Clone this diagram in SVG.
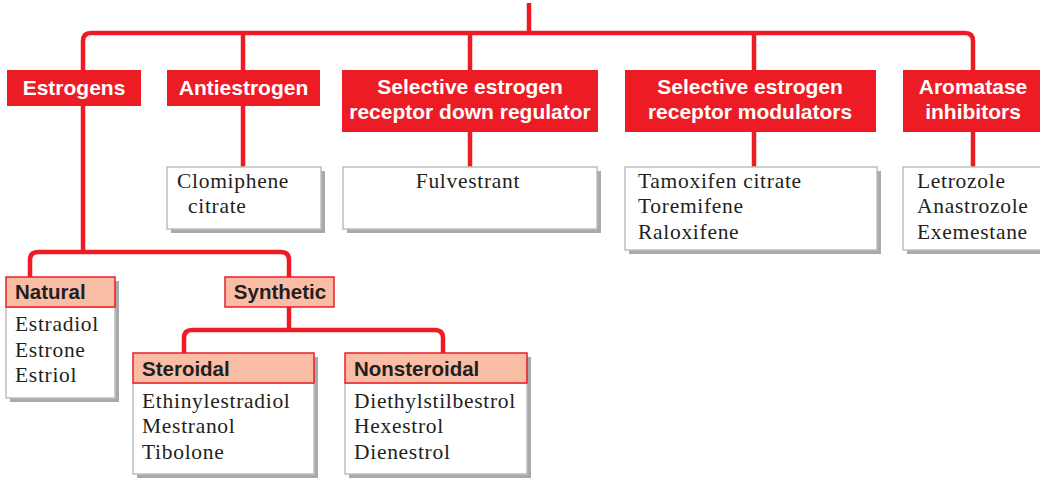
<svg xmlns="http://www.w3.org/2000/svg" width="1040" height="478" viewBox="0 0 1040 478">
<style>
.hdr{fill:#ed1c24}
.ht{font-family:"Liberation Sans",Arial,sans-serif;font-weight:bold;font-size:21px;fill:#ffffff;text-anchor:middle}
.sub{fill:#f9bda5;stroke:#ed1c24;stroke-width:1.5}
.st{font-family:"Liberation Sans",Arial,sans-serif;font-weight:bold;font-size:20.5px;fill:#231f20}
.box{fill:#ffffff;stroke:#bcbec0;stroke-width:1.5}
.sh{fill:#a7a9ac}
.bt{font-family:"Liberation Serif","Times New Roman",serif;font-size:21.5px;fill:#231f20;letter-spacing:0.7px}
.ln{fill:none;stroke:#ed1c24;stroke-width:4.5;stroke-linejoin:round}
</style>
<g id="connectors">
<path class="ln" d="M529,3 V33"/>
<path class="ln" d="M83,70 V41 Q83,33 91,33 H965 Q973,33 973,41 V70"/>
<path class="ln" d="M243,33 V70 M470,33 V70 M754,33 V70"/>
<path class="ln" d="M243,106 V167 M470,132 V167 M754,132 V167 M973,132 V167"/>
<path class="ln" d="M83,106 V252"/>
<path class="ln" d="M30,277 V260 Q30,252 38,252 H281 Q289,252 289,260 V277"/>
<path class="ln" d="M289,307 V330"/>
<path class="ln" d="M184,353 V338 Q184,330 192,330 H435 Q443,330 443,338 V353"/>
</g>
<g id="estrogens">
<rect class="hdr" x="7" y="70" width="134" height="36"/>
<text class="ht" x="74" y="95">Estrogens</text>
</g>
<g id="antiestrogen">
<rect class="hdr" x="167" y="70" width="153" height="36"/>
<text class="ht" x="243.5" y="95">Antiestrogen</text>
</g>
<g id="serd">
<rect class="hdr" x="342" y="70" width="256" height="62"/>
<text class="ht" x="470" y="94">Selective estrogen</text>
<text class="ht" x="470" y="119">receptor down regulator</text>
</g>
<g id="serm">
<rect class="hdr" x="625" y="70" width="251" height="62"/>
<text class="ht" x="750" y="94">Selective estrogen</text>
<text class="ht" x="750" y="119">receptor modulators</text>
</g>
<g id="aromatase">
<rect class="hdr" x="903" y="70" width="140" height="62"/>
<text class="ht" x="973" y="94">Aromatase</text>
<text class="ht" x="973" y="119">inhibitors</text>
</g>
<g id="clomiphene">
<rect class="sh" x="171" y="171" width="154" height="62"/>
<rect class="box" x="167" y="167" width="154" height="62"/>
<text class="bt" x="177" y="188">Clomiphene</text>
<text class="bt" x="188" y="213">citrate</text>
</g>
<g id="fulvestrant">
<rect class="sh" x="347" y="171" width="254" height="62"/>
<rect class="box" x="343" y="167" width="254" height="62"/>
<text class="bt" x="468" y="188" text-anchor="middle">Fulvestrant</text>
</g>
<g id="serm-drugs">
<rect class="sh" x="629" y="171" width="252" height="83"/>
<rect class="box" x="625" y="167" width="252" height="83"/>
<text class="bt" x="638" y="188">Tamoxifen citrate</text>
<text class="bt" x="638" y="213">Toremifene</text>
<text class="bt" x="638" y="239">Raloxifene</text>
</g>
<g id="ai-drugs">
<rect class="sh" x="907" y="171" width="140" height="83"/>
<rect class="box" x="903" y="167" width="140" height="83"/>
<text class="bt" x="917" y="188">Letrozole</text>
<text class="bt" x="917" y="213">Anastrozole</text>
<text class="bt" x="917" y="239">Exemestane</text>
</g>
<g id="natural">
<rect class="sh" x="10" y="281" width="109" height="121"/>
<rect class="box" x="6" y="307" width="109" height="91"/>
<rect class="sub" x="6" y="277" width="109" height="30"/>
<text class="st" x="15" y="299">Natural</text>
<text class="bt" x="15" y="331">Estradiol</text>
<text class="bt" x="15" y="357">Estrone</text>
<text class="bt" x="15" y="382">Estriol</text>
</g>
<g id="synthetic">
<rect class="sub" x="225" y="277" width="109" height="30"/>
<text class="st" x="280" y="299" text-anchor="middle">Synthetic</text>
</g>
<g id="steroidal">
<rect class="sh" x="137" y="357" width="181" height="121"/>
<rect class="box" x="133" y="383" width="181" height="91"/>
<rect class="sub" x="133" y="353" width="181" height="30"/>
<text class="st" x="142" y="376">Steroidal</text>
<text class="bt" x="142" y="408">Ethinylestradiol</text>
<text class="bt" x="142" y="433">Mestranol</text>
<text class="bt" x="142" y="459">Tibolone</text>
</g>
<g id="nonsteroidal">
<rect class="sh" x="349" y="357" width="182" height="121"/>
<rect class="box" x="345" y="383" width="182" height="91"/>
<rect class="sub" x="345" y="353" width="182" height="30"/>
<text class="st" x="354" y="376">Nonsteroidal</text>
<text class="bt" x="354" y="408">Diethylstilbestrol</text>
<text class="bt" x="354" y="433">Hexestrol</text>
<text class="bt" x="354" y="459">Dienestrol</text>
</g>
</svg>
